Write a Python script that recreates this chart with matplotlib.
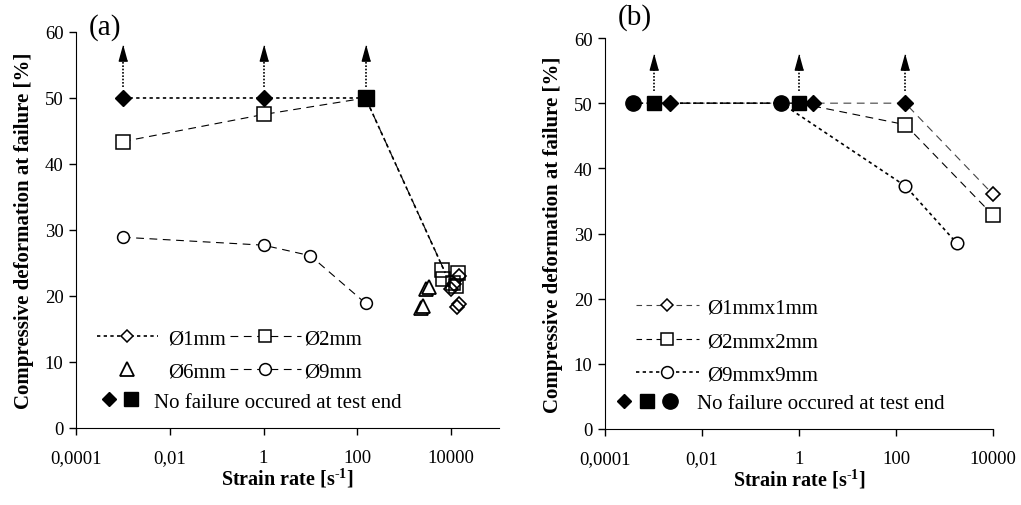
import matplotlib
matplotlib.use("Agg")
import matplotlib.pyplot as plt
from matplotlib.lines import Line2D
from matplotlib.legend_handler import HandlerTuple
from matplotlib.ticker import FixedLocator, NullLocator

plt.rcParams['font.family'] = ['Liberation Serif', 'DejaVu Serif']
plt.rcParams['mathtext.fontset'] = 'custom'
plt.rcParams['mathtext.rm'] = 'Liberation Serif'
plt.rcParams['mathtext.bf'] = 'Liberation Serif:bold'

# ---- panel (a) data ----
a_d1_nofail_x = [0.001, 1, 150]
a_d1_nofail_y = [50, 50, 50]
a_d1_x = [15000, 10000, 11500, 13500, 14500]
a_d1_y = [23.0, 21.0, 21.8, 18.4, 18.8]
a_d1_line_x = [0.001, 1, 150, 7500]
a_d1_line_y = [50, 50, 50, 23.5]

a_d2_x = [0.001, 1]
a_d2_y = [43.4, 47.5]
a_d2_nofail_x = [150]
a_d2_nofail_y = [50]
a_d2_hi_x = [6500, 6800, 14000, 11000, 12500]
a_d2_hi_y = [24.0, 22.6, 23.5, 22.0, 21.5]
a_d2_line_x = [0.001, 1, 150, 7000]
a_d2_line_y = [43.4, 47.5, 50, 24.0]

a_d6_x = [2300, 2500, 2900, 3300]
a_d6_y = [18.2, 18.5, 21.0, 21.3]

a_d9_x = [0.001, 1, 10, 150]
a_d9_y = [28.9, 27.7, 26.1, 18.9]

a_arrow_x = [0.001, 1, 150]

# ---- panel (b) data ----
b_nofail_circ_x = [0.00038, 0.43]
b_nofail_sq_x = [0.001, 1]
b_nofail_dia_x = [0.0022, 1.95, 155]
b_nofail_y = 50

b_d1_x = [10000]
b_d1_y = [36.0]
b_d2_x = [155, 10000]
b_d2_y = [46.7, 32.8]
b_d9_x = [155, 1800]
b_d9_y = [37.3, 28.5]

b_d1_line_x = [0.0022, 1.95, 155, 10000]
b_d1_line_y = [50, 50, 50, 36.0]
b_d2_line_x = [0.001, 1, 155, 10000]
b_d2_line_y = [50, 50, 46.7, 32.8]
b_d9_line_x = [0.00038, 0.43, 155, 1800]
b_d9_line_y = [50, 50, 37.3, 28.5]

b_arrow_x = [0.001, 1, 155]

xticks = [1e-4, 1e-2, 1, 100, 10000]
xticklabels = ["0,0001", "0,01", "1", "100", "10000"]
yticks = [0, 10, 20, 30, 40, 50, 60]

fs = 13.5      # tick labels
lfs = 15       # legend text
head = [(0, 1), (-0.55, -1), (0.55, -1)]
dotted = (0, (2, 2))
dashed = (0, (7, 5))

fig = plt.figure(figsize=(10.21, 5.06), dpi=100)
ax1 = fig.add_axes([0.0744, 0.1522, 0.4143, 0.7826])
ax2 = fig.add_axes([0.5926, 0.1502, 0.3800, 0.7727])


def style_axis(ax, xmax):
    ax.set_xscale('log')
    ax.set_xlim(1e-4, xmax)
    ax.set_ylim(0, 60)
    ax.spines['top'].set_visible(False)
    ax.spines['right'].set_visible(False)
    ax.xaxis.set_major_locator(FixedLocator(xticks))
    ax.xaxis.set_minor_locator(NullLocator())
    ax.set_xticklabels(xticklabels)
    ax.set_yticks(yticks)
    ax.tick_params(labelsize=fs, length=5, width=1, direction='out')
    ax.tick_params(axis='x', pad=10)
    ax.tick_params(axis='y', pad=4)
    ax.set_xlabel("Strain rate [s$^{\\mathbf{\u2010 1}}$]", fontsize=14.5, fontweight='bold', labelpad=0)
    ax.set_ylabel("Compressive deformation at failure [%]", fontsize=15, fontweight='bold', labelpad=8)


def arrows(ax, xs, y0, y1, ytip):
    for x in xs:
        ax.plot([x, x], [y0, y1], color='black', lw=1.2, ls=(0, (1, 1)), zorder=2)
        ax.plot([x], [ytip], marker=head, ms=11, color='black', ls='none', zorder=3)


leg_kw = dict(frameon=False, fontsize=lfs, borderpad=0, borderaxespad=0, numpoints=1)

# ---------------- panel (a) ----------------
style_axis(ax1, 1.05e5)
ax1.plot(a_d1_line_x, a_d1_line_y, color='black', lw=1.2, ls=dotted, zorder=1)
ax1.plot(a_d2_line_x, a_d2_line_y, color='black', lw=0.8, ls=dashed, zorder=1)
ax1.plot(a_d9_x, a_d9_y, color='black', lw=0.8, ls=dashed, zorder=1)

ax1.plot(a_d9_x, a_d9_y, 'o', ms=8.5, mfc='white', mec='black', mew=1.1, ls='none', zorder=4)
ax1.plot(a_d2_x, a_d2_y, 's', ms=9.5, mfc='white', mec='black', mew=1.1, ls='none', zorder=4)
ax1.plot(a_d6_x, a_d6_y, '^', ms=10, mfc='white', mec='black', mew=1.3, ls='none', zorder=4)
ax1.plot(a_d2_hi_x, a_d2_hi_y, 's', ms=9.5, mfc='none', mec='black', mew=1.1, ls='none', zorder=4)
ax1.plot(a_d1_x, a_d1_y, 'D', ms=7.5, mfc='none', mec='black', mew=1.2, ls='none', zorder=4)
ax1.plot(a_d1_nofail_x, a_d1_nofail_y, 'D', ms=7.8, color='black', ls='none', zorder=5)
ax1.plot(a_d2_nofail_x, a_d2_nofail_y, 's', ms=11, color='black', ls='none', zorder=6)
arrows(ax1, a_arrow_x, 51.6, 55.6, 56.75)

h_d1 = Line2D([], [], color='black', lw=1.2, ls=dotted, marker='D', ms=6, mfc='white', mec='black', mew=1.1)
h_d2 = Line2D([], [], color='black', lw=0.8, ls=dashed, marker='s', ms=9, mfc='white', mec='black', mew=1.1)
h_d6 = Line2D([], [], ls='none', marker='^', ms=10, mfc='white', mec='black', mew=1.3)
h_d9 = Line2D([], [], color='black', lw=0.8, ls=dashed, marker='o', ms=8.5, mfc='white', mec='black', mew=1.1)
leg_a1 = ax1.legend([h_d1, h_d6], ["Ø1mm", "Ø6mm"], loc='upper left', bbox_to_anchor=(0.05, 0.25),
                    handlelength=2.9, handletextpad=0.5, labelspacing=0.62, **leg_kw)
ax1.add_artist(leg_a1)
leg_a2 = ax1.legend([h_d2, h_d9], ["Ø2mm", "Ø9mm"], loc='upper left', bbox_to_anchor=(0.364, 0.25),
                    handlelength=3.4, handletextpad=0.15, labelspacing=0.62, **leg_kw)
ax1.add_artist(leg_a2)
f_dia = Line2D([], [], ls='none', marker='D', ms=7.5, color='black')
f_sq = Line2D([], [], ls='none', marker='s', ms=10.5, color='black')
f_circ = Line2D([], [], ls='none', marker='o', ms=11, color='black')
ax1.legend([(f_dia, f_sq)], ["No failure occured at test end"],
           handler_map={tuple: HandlerTuple(ndivide=None, pad=0)},
           loc='center left', bbox_to_anchor=(0.05, 0.066),
           handlelength=2.2, handletextpad=0.55, **leg_kw)
ax1.text(0.069, 1.015, "(a)", transform=ax1.transAxes, fontsize=21, ha='center', va='center')

# ---------------- panel (b) ----------------
style_axis(ax2, 1e4)
ax2.plot(b_d1_line_x, b_d1_line_y, color='#444444', lw=0.8, ls=dashed, zorder=1, clip_on=False)
ax2.plot(b_d2_line_x, b_d2_line_y, color='black', lw=0.8, ls=dashed, zorder=1, clip_on=False)
ax2.plot(b_d9_line_x, b_d9_line_y, color='black', lw=1.2, ls=dotted, zorder=1, clip_on=False)

ax2.plot(b_d1_x, b_d1_y, 'D', ms=7.5, mfc='white', mec='black', mew=1.2, ls='none', zorder=4, clip_on=False)
ax2.plot(b_d2_x, b_d2_y, 's', ms=10, mfc='white', mec='black', mew=1.1, ls='none', zorder=4, clip_on=False)
ax2.plot(b_d9_x, b_d9_y, 'o', ms=9, mfc='white', mec='black', mew=1.1, ls='none', zorder=4, clip_on=False)
ax2.plot(b_nofail_circ_x, [b_nofail_y] * len(b_nofail_circ_x), 'o', ms=11, color='black', ls='none', zorder=5)
ax2.plot(b_nofail_sq_x, [b_nofail_y] * len(b_nofail_sq_x), 's', ms=10.5, color='black', ls='none', zorder=5)
ax2.plot(b_nofail_dia_x, [b_nofail_y] * len(b_nofail_dia_x), 'D', ms=7.8, color='black', ls='none', zorder=5)
arrows(ax2, b_arrow_x, 51.8, 55.2, 56.35)

g_d1 = Line2D([], [], color='#444444', lw=0.8, ls=(0, (5, 4)), marker='D', ms=6, mfc='white', mec='black', mew=1.1)
g_d2 = Line2D([], [], color='black', lw=0.8, ls=(0, (5, 4)), marker='s', ms=9, mfc='white', mec='black', mew=1.1)
g_d9 = Line2D([], [], color='black', lw=1.2, ls=dotted, marker='o', ms=8.5, mfc='white', mec='black', mew=1.1)
leg_b = ax2.legend([g_d1, g_d2, g_d9], ["Ø1mmx1mm", "Ø2mmx2mm", "Ø9mmx9mm"],
                   loc='upper left', bbox_to_anchor=(0.08, 0.335),
                   handlelength=3.0, handletextpad=0.43, labelspacing=0.67, **leg_kw)
ax2.add_artist(leg_b)
ax2.legend([(f_dia, f_sq, f_circ)], ["No failure occured at test end"],
           handler_map={tuple: HandlerTuple(ndivide=None, pad=0)},
           loc='center left', bbox_to_anchor=(0.02, 0.066),
           handlelength=3.3, handletextpad=0.75, **leg_kw)
ax2.text(0.077, 1.054, "(b)", transform=ax2.transAxes, fontsize=21, ha='center', va='center')

fig.savefig("out.png", dpi=100)
